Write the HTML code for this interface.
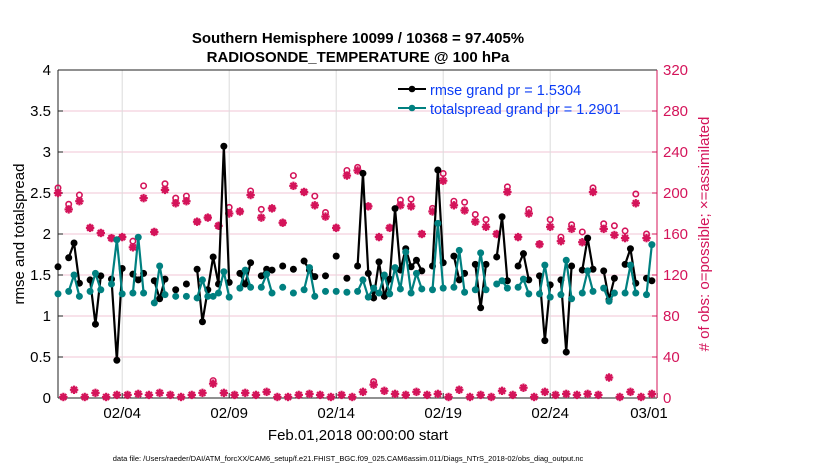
<!DOCTYPE html>
<html><head><meta charset="utf-8"><style>
html,body{margin:0;padding:0;background:#fff;}
svg{display:block;font-family:"Liberation Sans",Arial,sans-serif;}
</style></head><body>
<svg id="chart" width="830" height="470" viewBox="0 0 830 470" xmlns="http://www.w3.org/2000/svg">
<text x="358" y="43" text-anchor="middle" font-size="15" font-weight="bold">Southern Hemisphere 10099 / 10368 = 97.405%</text>
<text x="358" y="62" text-anchor="middle" font-size="15" font-weight="bold">RADIOSONDE_TEMPERATURE @ 100 hPa</text>
<g id="grid"></g>
<g id="axes"></g>
<g id="marks"></g>
<text transform="translate(24,234) rotate(-90)" text-anchor="middle" font-size="15">rmse and totalspread</text>
<text transform="translate(709,234) rotate(-90)" text-anchor="middle" font-size="15" fill="#d4145a"># of obs: o=possible; ×=assimilated</text>
<text x="358" y="440" text-anchor="middle" font-size="15">Feb.01,2018 00:00:00 start</text>
<text x="348" y="461" text-anchor="middle" font-size="7.5">data file: /Users/raeder/DAI/ATM_forcXX/CAM6_setup/f.e21.FHIST_BGC.f09_025.CAM6assim.011/Diags_NTrS_2018-02/obs_diag_output.nc</text>
<g id="legend">
<line x1="398" y1="89" x2="426" y2="89" stroke="#000" stroke-width="2"/><circle cx="412" cy="89" r="3.3" fill="#000"/>
<text x="430" y="95" font-size="14.5" fill="#0a3cf5">rmse grand pr = 1.5304</text>
<line x1="398" y1="108" x2="426" y2="108" stroke="#008080" stroke-width="2"/><circle cx="412" cy="108" r="3.3" fill="#008080"/>
<text x="430" y="114" font-size="14.5" fill="#0a3cf5">totalspread grand pr = 1.2901</text>
</g>
</svg>
<script>
// 6-hourly slots starting Feb 01 00Z; null = missing
const rmse = [1.60,null,1.71,1.89,1.40,null,1.44,0.90,1.49,null,1.45,0.46,1.58,null,1.51,1.44,1.52,null,1.43,1.21,1.45,null,1.32,null,1.39,null,1.57,0.93,1.32,1.72,1.39,3.07,1.41,null,1.52,1.39,1.65,null,1.49,1.57,1.56,null,1.61,null,1.57,null,1.67,1.56,1.48,null,1.49,null,1.73,null,1.46,null,1.61,2.74,1.52,1.22,1.66,1.24,1.45,2.31,1.56,1.82,1.60,1.68,1.55,null,1.61,2.78,1.65,null,1.73,1.44,1.52,null,1.63,1.10,1.63,null,1.72,2.21,1.43,null,1.61,1.76,1.44,null,1.49,0.70,1.38,null,1.44,0.56,1.61,null,1.56,1.95,1.57,null,1.55,1.20,1.46,null,1.63,1.82,1.40,null,1.46,1.43];
const spread = [1.27,null,1.30,1.50,1.24,null,1.30,1.52,1.32,null,1.39,1.93,1.27,null,1.28,1.96,1.28,null,1.16,1.61,1.26,null,1.24,null,1.24,null,1.22,1.44,1.24,1.24,1.28,1.54,1.23,null,1.34,1.56,1.35,null,1.35,1.51,1.28,null,1.35,null,1.28,null,1.32,1.59,1.24,null,1.30,null,1.30,null,1.29,null,1.30,1.44,1.23,1.34,1.28,1.50,1.27,1.59,1.33,1.78,1.28,1.52,1.33,null,1.32,2.13,1.34,null,1.35,1.80,1.29,null,1.32,1.77,1.32,null,1.39,1.43,1.34,null,1.35,1.45,1.27,null,1.27,1.62,1.23,null,1.26,1.68,1.21,null,1.28,1.55,1.30,null,1.34,1.18,1.28,null,1.28,1.62,1.28,null,1.26,1.87];
const possibleEven = [205,189,198,166,161,156,157,153,207,162,209,195,197,172,176,168,186,182,202,184,185,171,217,201,197,181,166,222,225,187,157,166,193,194,160,185,219,192,191,179,174,160,206,157,184,150,174,157,169,162,205,170,168,163,199,160];
const assimEven = [200,184,192,166,161,156,157,147,195,162,203,190,192,172,176,168,180,182,198,176,185,171,207,201,188,177,166,217,222,187,157,166,188,187,160,182,212,188,183,172,167,160,201,157,180,150,167,153,165,152,201,165,159,156,190,156];
const obsOdd = [1,8,1,5,1,3,3,4,3,5,3,1,3,5,14,5,3,5,3,6,1,1,3,4,3,1,3,1,6,13,7,4,3,6,3,4,1,8,1,3,1,7,3,10,1,6,3,4,3,4,3,20,1,6,1,4];
const possibleOddExtra = {29:16, 14:17};
const yTicks = [0,0.5,1,1.5,2,2.5,3,3.5,4];
const y2Ticks = [0,40,80,120,160,200,240,280,320];
const xTickDays = [3,8,13,18,23,28];
const xTickLabels = ["02/04","02/09","02/14","02/19","02/24","03/01"];

const NS="http://www.w3.org/2000/svg";
const L=58,R=657,T=70,B=398;
const X0=58, SLOT=5.35;
const xs = s => X0 + s*SLOT;
const xd = d => X0 + d*4*SLOT;
const y1 = v => B - v/4*(B-T);
const y2 = v => B - v/320*(B-T);
function mk(tag, attrs, parent){const e=document.createElementNS(NS,tag);for(const k in attrs)e.setAttribute(k,attrs[k]);parent.appendChild(e);return e;}
const grid=document.getElementById('grid'), axes=document.getElementById('axes'), marks=document.getElementById('marks');

yTicks.forEach((v,i)=>{
  if(v>0&&v<4){const g=mk('line',{x1:L,x2:R,y1:y1(v),y2:y1(v),stroke:'#f2c4d6','stroke-width':1},grid);
  
  }
  const t=mk('text',{x:L-7,y:y1(v)+5,'text-anchor':'end','font-size':15},axes);t.textContent=String(v);
  
  
  mk('line',{x1:L,x2:L+5,y1:y1(v),y2:y1(v),stroke:'#222'},axes);
});
xTickDays.forEach((d,i)=>{
  const x=xd(d);
  if(x<R-1){const g=mk('line',{x1:x,x2:x,y1:T,y2:B,stroke:'#dcdcdc','stroke-width':1},grid);
  
  }
  const t=mk('text',{x:Math.min(x,R-8),y:B+20,'text-anchor':'middle','font-size':15},axes);t.textContent=xTickLabels[i];
  
  
  mk('line',{x1:x,x2:x,y1:B,y2:B-5,stroke:'#222'},axes);
});
y2Ticks.forEach(v=>{
  const t=mk('text',{x:R+6,y:y2(v)+5,'font-size':15,fill:'#d4145a'},axes);t.textContent=String(v);
  
  
  mk('line',{x1:R-5,x2:R,y1:y2(v),y2:y2(v),stroke:'#d4145a'},axes);
});
mk('line',{x1:L,x2:L,y1:T,y2:B,stroke:'#222','stroke-width':1},axes);
mk('line',{x1:L,x2:R,y1:B,y2:B,stroke:'#222','stroke-width':1},axes);
mk('line',{x1:L,x2:R,y1:T,y2:T,stroke:'#222','stroke-width':1},axes);
mk('line',{x1:R,x2:R,y1:T,y2:B,stroke:'#d4145a','stroke-width':1},axes);

function star(cx,cy,name){
  const g=mk('g',{},marks);
  
  
  for(let a=0;a<4;a++){const an=a*Math.PI/4,dx=4.2*Math.cos(an),dy=4.2*Math.sin(an);
    mk('line',{x1:cx-dx,y1:cy-dy,x2:cx+dx,y2:cy+dy,stroke:'#d4145a','stroke-width':2.2},g);}
  mk('circle',{cx:cx,cy:cy,r:2.4,fill:'#d4145a'},g);
}
function ring(cx,cy,name){
  const c=mk('circle',{cx:cx,cy:cy,r:2.7,fill:'none',stroke:'#d4145a','stroke-width':1.6},marks);
  
  
}
possibleEven.forEach((v,i)=>{ring(xs(2*i),y2(v),'possible-marker');});
assimEven.forEach((v,i)=>{star(xs(2*i),y2(v),'assimilated-marker');});
obsOdd.forEach((v,i)=>{const s=2*i+1;
  if(possibleOddExtra[i]!==undefined) ring(xs(s),y2(possibleOddExtra[i]),'possible-marker');
  star(xs(s),y2(v),'assimilated-marker');});

function series(arr,color,name){
  let seg=[];
  const flush=()=>{if(seg.length>1){const p=mk('polyline',{points:seg.join(' '),fill:'none',stroke:color,'stroke-width':2.2,'stroke-linejoin':'round'},marks);
    
    }seg=[];};
  arr.forEach((v,s)=>{if(v===null){flush();return;}seg.push(xs(s)+','+y1(v));});
  flush();
  arr.forEach((v,s)=>{if(v===null)return;
    const c=mk('circle',{cx:xs(s),cy:y1(v),r:3.5,fill:color},marks);
    
    });
}
series(rmse,'#000000','rmse');
series(spread,'#008080','totalspread');
</script>
</body></html>
